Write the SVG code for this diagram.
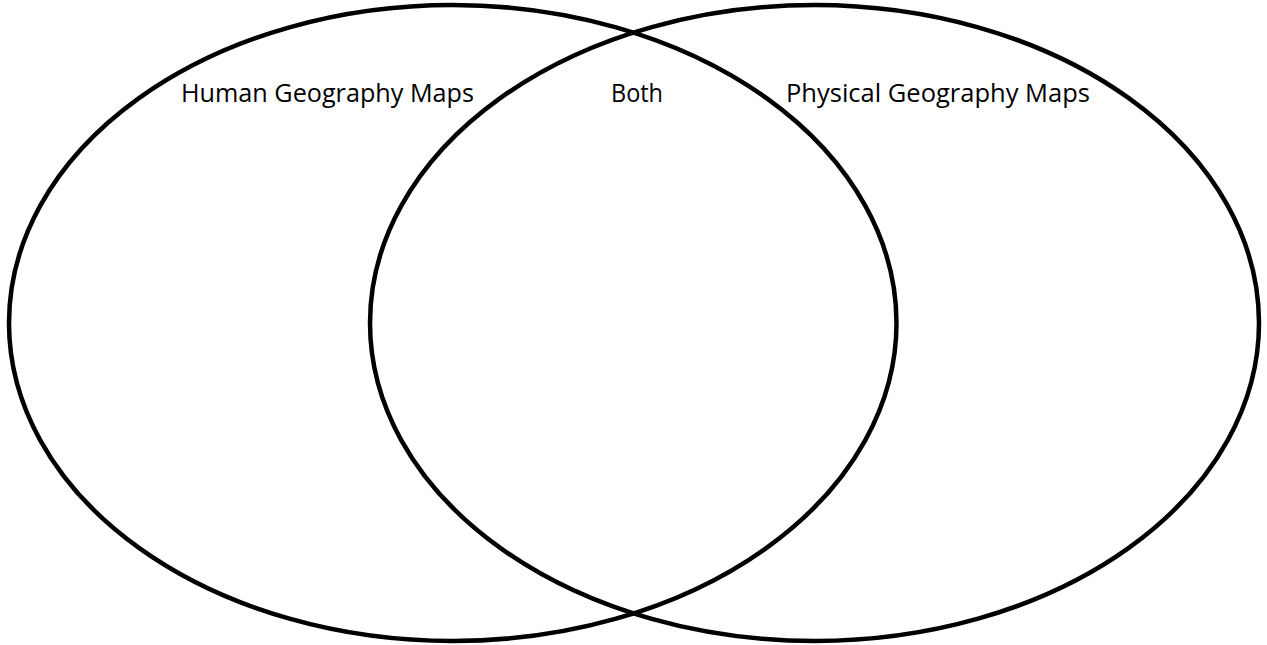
<svg xmlns="http://www.w3.org/2000/svg" width="1267" height="645" viewBox="0 0 1267 645">
<style>
.c{fill:none;stroke:#000;stroke-width:4.5}
.t{font-family:"Open Sans","Liberation Sans",sans-serif;font-size:26px;fill:#000}
</style>
<rect width="1267" height="645" fill="#fff"/>
<g id="human">
<ellipse class="c" cx="452.75" cy="323" rx="443.75" ry="318"/>
<text class="t" x="181" y="102" textLength="293" lengthAdjust="spacingAndGlyphs">Human Geography Maps</text>
</g>
<g id="physical">
<ellipse class="c" cx="814.5" cy="323" rx="444.5" ry="318"/>
<text class="t" x="786" y="102" textLength="304" lengthAdjust="spacingAndGlyphs">Physical Geography Maps</text>
</g>
<g id="both">
<text class="t" x="611" y="102" textLength="52" lengthAdjust="spacingAndGlyphs">Both</text>
</g>
<g id="connectors"></g>
</svg>
